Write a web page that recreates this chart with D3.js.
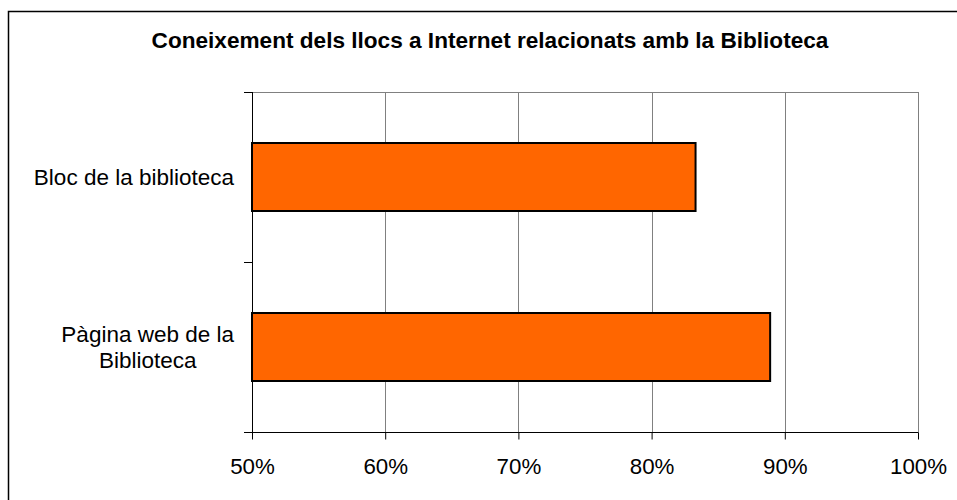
<!DOCTYPE html>
<html>
<head>
<meta charset="utf-8">
<script src="https://cdn.jsdelivr.net/npm/d3@7"></script>
<style>
  body { margin: 0; background: #fff; }
  text { font-family: "Liberation Sans", Arial, sans-serif; fill: #000; }
</style>
</head>
<body>
<svg id="chart" width="957" height="500"></svg>
<script>
const title = 'Coneixement dels llocs a Internet relacionats amb la Biblioteca';
const categories = ['Bloc de la biblioteca', 'Pàgina web de la\nBiblioteca'];
const values = [0.833, 0.889];
const xTicks = [0.5, 0.6, 0.7, 0.8, 0.9, 1.0];

const svg = d3.select('#chart');
const plot = { left: 252, right: 918, top: 92, bottom: 432 };

// outer chart border (runs off the right and bottom of the picture)
svg.append('rect')
    .attr('x', 8.5).attr('y', 11.5)
    .attr('width', 1000).attr('height', 600)
    .attr('fill', 'none')
    .attr('stroke', '#000')
    .attr('stroke-width', 1.5);

svg.append('text')
    .attr('x', 490).attr('y', 48)
    .attr('text-anchor', 'middle')
    .attr('font-size', 22.6)
    .attr('font-weight', 'bold')
    .text(title);

const x = d3.scaleLinear().domain([0.5, 1.0]).range([plot.left, plot.right]);
const y = d3.scaleBand()
    .domain(categories)
    .range([plot.top, plot.bottom])
    .paddingInner(0.6)
    .paddingOuter(0.3);

// gridlines
svg.append('g')
    .selectAll('line')
    .data(xTicks.slice(1))
    .enter()
    .append('line')
    .attr('x1', d => Math.round(x(d)) + 0.5)
    .attr('x2', d => Math.round(x(d)) + 0.5)
    .attr('y1', plot.top)
    .attr('y2', plot.bottom)
    .attr('stroke', '#808080')
    .attr('stroke-width', 1);

// plot top border
svg.append('line')
    .attr('x1', plot.left).attr('x2', plot.right + 0.5)
    .attr('y1', plot.top + 0.5).attr('y2', plot.top + 0.5)
    .attr('stroke', '#808080');

// bars
svg.append('g')
    .selectAll('rect')
    .data(values)
    .enter()
    .append('rect')
    .attr('x', x(0.5))
    .attr('y', (d, i) => y(categories[i]))
    .attr('width', d => x(d) - x(0.5))
    .attr('height', y.bandwidth())
    .attr('fill', '#FF6600')
    .attr('stroke', '#000')
    .attr('stroke-width', 2);

// bottom axis
const xAxis = d3.axisBottom(x)
    .tickValues(xTicks)
    .tickFormat(d3.format('.0%'))
    .tickSize(7)
    .tickSizeOuter(0);

const gx = svg.append('g')
    .attr('transform', `translate(0,${plot.bottom + 0.5})`)
    .call(xAxis);
gx.select('.domain').attr('stroke', '#000').attr('d', `M${plot.left - 8},0H${plot.right + 0.5}`);
gx.selectAll('.tick line').attr('stroke', '#000');
gx.selectAll('.tick text')
    .attr('font-size', 22.3)
    .attr('font-family', '"Liberation Sans", Arial, sans-serif')
    .attr('fill', '#000')
    .attr('dy', null)
    .attr('y', 41);

// left axis: ticks on category boundaries
const bounds = [plot.top, (plot.top + plot.bottom) / 2, plot.bottom];
const gy = svg.append('g');
gy.append('line')
    .attr('x1', plot.left + 0.5).attr('x2', plot.left + 0.5)
    .attr('y1', plot.top).attr('y2', plot.bottom + 7)
    .attr('stroke', '#000');
gy.selectAll('line.tick')
    .data(bounds)
    .enter()
    .append('line')
    .attr('class', 'tick')
    .attr('x1', plot.left - 8).attr('x2', plot.left)
    .attr('y1', d => Math.round(d) + 0.5)
    .attr('y2', d => Math.round(d) + 0.5)
    .attr('stroke', '#000');

// category labels, block right-aligned, lines centred within the block
const lineH = 26.5;
categories.forEach(c => {
    const lines = c.split('\n');
    const g = svg.append('g');
    const t = g.selectAll('text')
        .data(lines)
        .enter()
        .append('text')
        .attr('font-size', 22.5)
        .attr('text-anchor', 'middle')
        .text(d => d);
    const w = d3.max(t.nodes(), n => n.getComputedTextLength());
    const cy = y(c) + y.bandwidth() / 2;
    const firstBase = cy + 8 - (lines.length - 1) * lineH / 2;
    t.attr('x', 234 - w / 2)
        .attr('y', (d, i) => firstBase + i * lineH);
});
</script>
</body>
</html>
